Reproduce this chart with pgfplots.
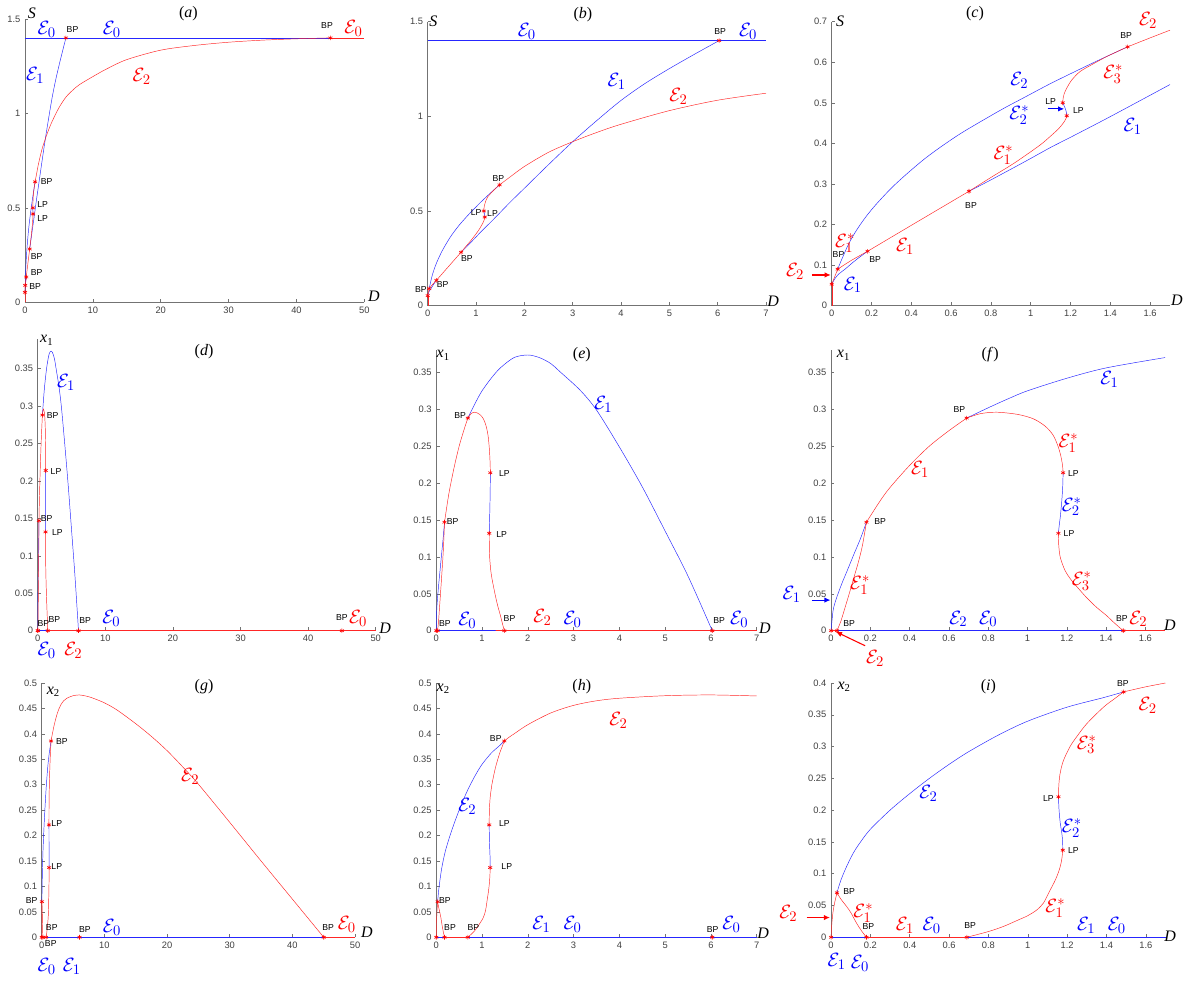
\documentclass[border=0pt]{standalone}
\usepackage{fontspec}
\setmainfont{Liberation Serif}
\setsansfont{Liberation Sans}
\usepackage{pgfplots}
\pgfplotsset{compat=1.18}
\usepackage{pgfplotstable}
\usetikzlibrary{arrows.meta}

\definecolor{cr}{rgb}{1,0,0}
\definecolor{cb}{rgb}{0,0,1}
\definecolor{axgray}{gray}{0.45}

\tikzset{
  bp/.style={font=\sffamily\fontsize{6.5}{6.5}\selectfont, inner sep=0pt, text=black},
  el/.style={font=\fontsize{15}{15}\selectfont, inner sep=0pt},
  ttl/.style={font=\fontsize{12}{12}\selectfont, inner sep=0pt},
  axl/.style={font=\fontsize{12}{12}\selectfont\itshape, inner sep=0pt},
}

\pgfplotsset{
  panel/.style={
    scale only axis, anchor=south west,
    axis x line*=bottom, axis y line*=left,
    axis line style={axgray, line width=0.5pt, -},
    tick style={axgray, line width=0.4pt},
    tick align=inside, major tick length=2.5pt,
    xmin=0, ymin=0, clip=false,
    scaled ticks=false,
    ticklabel style={font=\sffamily\fontsize{7}{8}\selectfont, text=black!75},
    /pgf/number format/assume math mode=true,
    yticklabel style={/pgf/number format/fixed, /pgf/number format/precision=2},
    xticklabel style={/pgf/number format/fixed, /pgf/number format/precision=2},
  },
  bl/.style={cb!85, line width=0.35pt, smooth, no markers},
  rd/.style={cr!85, line width=0.35pt, smooth, no markers},
  mk/.style={cr, only marks, mark=asterisk, mark size=1.7pt, mark options={line width=0.45pt}},
}

% ---------- S against D ----------
\pgfplotstableread{
D V
0 1.4
1.7 1.4
7 1.4
45 1.4
}\SEzB
\pgfplotstableread{
D V
45 1.4
50 1.4
}\SEzR
\pgfplotstableread{
D V
0 0
0 0.053
}\SEzV
\pgfplotstableread{
D V
0 0.053
0.012 0.068
0.03 0.09
}\SEtwoA
\pgfplotstableread{
D V
0.03 0.09
0.045 0.108
0.06 0.125
0.08 0.147
0.1 0.166
0.13 0.19
0.17 0.218
0.22 0.248
0.3 0.29
0.38 0.326
0.467 0.362
0.55 0.392
0.65 0.425
0.767 0.459
0.867 0.487
0.967 0.513
1.09 0.545
1.214 0.575
1.35 0.607
1.487 0.638
}\SEtwoB
\pgfplotstableread{
D V
1.487 0.638
1.6 0.66
1.7 0.679
2 0.735
2.5 0.81
3 0.866
3.5 0.915
4 0.958
5 1.03
6 1.085
7 1.122
8 1.152
10 1.195
12 1.235
15 1.285
20 1.335
25 1.36
30 1.377
35 1.388
40 1.395
45 1.4
}\SEtwoC
\pgfplotstableread{
D V
0 0.053
0.015 0.066
0.035 0.078
0.067 0.09
0.1 0.104
0.133 0.117
0.18 0.134
}\SEoneA
\pgfplotstableread{
D V
0.18 0.134
0.4 0.198
0.69 0.282
}\SEoneR
\pgfplotstableread{
D V
0.69 0.282
0.8 0.31
0.967 0.354
1.1 0.39
1.2 0.415
1.4 0.466
1.7 0.545
2 0.62
2.5 0.745
3 0.866
3.5 0.978
4 1.084
4.5 1.174
5 1.252
5.5 1.325
6.03 1.4
}\SEoneB
\pgfplotstableread{
D V
0.03 0.09
0.1 0.112
0.18 0.134
}\SElow
\pgfplotstableread{
D V
0.69 0.282
0.8 0.316
0.9 0.346
0.967 0.368
1.05 0.397
1.1 0.418
1.14 0.436
1.165 0.451
1.176 0.46
1.181 0.468
}\SEsOne
\pgfplotstableread{
D V
1.181 0.468
1.179 0.477
1.172 0.488
1.161 0.5
}\SEsTwo
\pgfplotstableread{
D V
1.161 0.5
1.163 0.512
1.168 0.522
1.181 0.536
1.206 0.556
1.248 0.577
1.307 0.594
1.382 0.614
1.487 0.638
}\SEsThree
\pgfplotstableread{
D V
0 0.053
0.03 0.09
0.18 0.134
0.69 0.282
1.181 0.468
1.161 0.5
1.487 0.638
6.03 1.4
45 1.4
}\Smk

% ---------- x1 against D ----------
\pgfplotstableread{
D V
0 0
1.7 0
7 0
50 0
}\XaAxB
\pgfplotstableread{
D V
0 0
0.03 0
}\XaAxRa
\pgfplotstableread{
D V
1.487 0
1.7 0
7 0
50 0
}\XaAxRb
\pgfplotstableread{
D V
0 0
0.004 0.012
0.012 0.03
0.03 0.046
0.055 0.064
0.08 0.08
0.12 0.106
0.15 0.125
0.18 0.147
}\XaOneA
\pgfplotstableread{
D V
0.18 0.147
0.25 0.176
0.3 0.194
0.4 0.224
0.5 0.25
0.6 0.271
0.69 0.288
}\XaOneR
\pgfplotstableread{
D V
0.69 0.288
0.8 0.302
0.9 0.314
1.0 0.325
1.2 0.342
1.4 0.356
1.7 0.37
2 0.3735
2.25 0.37
2.5 0.362
2.7 0.351
3.14 0.326
3.5 0.299
4 0.249
4.5 0.195
5 0.135
5.5 0.074
6.03 0
}\XaOneB
\pgfplotstableread{
D V
0.03 0
0.05 0.013
0.065 0.026
0.09 0.048
0.115 0.071
0.14 0.094
0.16 0.116
0.18 0.147
}\XaLow
\pgfplotstableread{
D V
0.69 0.288
0.76 0.294
0.843 0.296
0.95 0.293
1.03 0.287
1.09 0.277
1.13 0.265
1.155 0.25
1.17 0.236
1.178 0.224
1.181 0.214
}\XaSOne
\pgfplotstableread{
D V
1.181 0.214
1.179 0.195
1.174 0.175
1.167 0.155
1.161 0.142
1.157 0.132
}\XaSTwo
\pgfplotstableread{
D V
1.157 0.132
1.159 0.115
1.167 0.099
1.19 0.082
1.216 0.071
1.25 0.06
1.3 0.045
1.35 0.032
1.4 0.021
1.44 0.011
1.487 0
}\XaSThree
\pgfplotstableread{
D V
0 0
0.03 0
0.18 0.147
0.69 0.288
1.181 0.214
1.157 0.132
1.487 0
6.03 0
45 0
}\Xamk

% ---------- x2 against D ----------
\pgfplotstableread{
D V
0 0
1.7 0
7 0
50 0
}\XbAxB
\pgfplotstableread{
D V
0.18 0
0.69 0
}\XbAxRa
\pgfplotstableread{
D V
45 0
50 0
}\XbAxRb
\pgfplotstableread{
D V
0 0
0.004 0.022
0.01 0.04
0.018 0.054
0.03 0.07
}\XbTwoA
\pgfplotstableread{
D V
0.03 0.07
0.05 0.09
0.08 0.112
0.114 0.133
0.15 0.15
0.2 0.17
0.3 0.2
0.4 0.226
0.5 0.25
0.6 0.272
0.7 0.292
0.85 0.318
1.0 0.34
1.2 0.362
1.385 0.377
1.487 0.386
}\XbTwoB
\pgfplotstableread{
D V
1.487 0.386
1.6 0.394
1.7 0.4
2 0.418
2.5 0.441
3 0.456
3.5 0.465
4 0.47
5 0.475
6 0.4765
7 0.4745
8 0.471
10 0.461
12 0.447
15 0.42
17.5 0.395
20 0.367
22.5 0.335
25 0.301
30 0.226
35 0.15
40 0.075
45 0
}\XbTwoC
\pgfplotstableread{
D V
0.03 0.07
0.05 0.06
0.08 0.048
0.1 0.039
0.13 0.022
0.155 0.01
0.18 0
}\XbLow
\pgfplotstableread{
D V
0.69 0
0.8 0.009
0.876 0.017
0.95 0.027
1.0 0.034
1.046 0.043
1.08 0.054
1.11 0.072
1.14 0.09
1.16 0.106
1.172 0.121
1.178 0.137
}\XbSOne
\pgfplotstableread{
D V
1.178 0.137
1.177 0.152
1.172 0.166
1.165 0.18
1.159 0.2
1.156 0.221
}\XbSTwo
\pgfplotstableread{
D V
1.156 0.221
1.158 0.24
1.164 0.257
1.18 0.277
1.215 0.3
1.25 0.316
1.3 0.336
1.385 0.362
1.44 0.375
1.487 0.386
}\XbSThree
\pgfplotstableread{
D V
0 0
0.03 0.07
0.18 0
0.69 0
1.178 0.137
1.156 0.221
1.487 0.386
6.03 0
45 0
}\Xbmk

\newcommand{\Splots}{%
  \addplot[bl] table {\SEzB};
  \addplot[bl] table {\SEoneA};
  \addplot[bl] table {\SEoneB};
  \addplot[bl] table {\SEtwoB};
  \addplot[bl] table {\SEsTwo};
  \addplot[rd] table {\SEzR};
  \addplot[rd] table {\SEzV};
  \addplot[rd] table {\SEtwoA};
  \addplot[rd] table {\SEtwoC};
  \addplot[rd] table {\SEoneR};
  \addplot[rd] table {\SElow};
  \addplot[rd] table {\SEsOne};
  \addplot[rd] table {\SEsThree};
  \addplot[mk] table {\Smk};
}
\newcommand{\XaPlots}{%
  \addplot[bl] table {\XaAxB};
  \addplot[bl] table {\XaOneA};
  \addplot[bl] table {\XaOneB};
  \addplot[bl] table {\XaSTwo};
  \addplot[rd] table {\XaAxRa};
  \addplot[rd] table {\XaAxRb};
  \addplot[rd] table {\XaOneR};
  \addplot[rd] table {\XaLow};
  \addplot[rd] table {\XaSOne};
  \addplot[rd] table {\XaSThree};
  \addplot[mk] table {\Xamk};
}
\newcommand{\XbPlots}{%
  \addplot[bl] table {\XbAxB};
  \addplot[bl] table {\XbTwoB};
  \addplot[bl] table {\XbSTwo};
  \addplot[rd] table {\XbAxRa};
  \addplot[rd] table {\XbAxRb};
  \addplot[rd] table {\XbTwoA};
  \addplot[rd] table {\XbTwoC};
  \addplot[rd] table {\XbLow};
  \addplot[rd] table {\XbSOne};
  \addplot[rd] table {\XbSThree};
  \addplot[mk] table {\Xbmk};
}
\newcommand{\Eb}[3]{\node[el,text=cb] at (axis cs:#1,#2) {$\mathcal{E}#3$};}
\newcommand{\Er}[3]{\node[el,text=cr] at (axis cs:#1,#2) {$\mathcal{E}#3$};}
\newcommand{\Lb}[3]{\node[bp] at (axis cs:#1,#2) {#3};}

\begin{document}
\begin{tikzpicture}
\useasboundingbox (0,0) rectangle (894.75pt,735.75pt);

% ===== (a) =====
\begin{axis}[panel, at={(18.75pt,509pt)}, width=254.5pt, height=212.5pt,
  xmax=50, ymax=1.5, xtick={0,10,20,30,40,50}, ytick={0,0.5,1,1.5},
  restrict x to domain=-0.001:50]
\Splots
\node[ttl] at (axis cs:24.07,1.53) {(\textit{a})};
\node[axl] at (axis cs:1.0,1.53) {S};
\node[axl] at (axis cs:51.4,0.03) {D};
\Eb{3.2}{1.445}{_0} \Lb{7.0}{1.445}{BP} \Eb{12.8}{1.445}{_0}
\Lb{44.5}{1.468}{BP} \Er{48.4}{1.45}{_0}
\Eb{1.5}{1.2}{_1} \Er{17.2}{1.195}{_2}
\Lb{3.2}{0.64}{BP} \Lb{2.6}{0.52}{LP} \Lb{2.6}{0.445}{LP}
\Lb{1.7}{0.242}{BP} \Lb{1.7}{0.157}{BP} \Lb{1.5}{0.086}{BP}
\end{axis}

% ===== (b) =====
\begin{axis}[panel, at={(320.8pt,506.5pt)}, width=253.7pt, height=213pt,
  xmax=7, ymax=1.5, xtick={0,1,2,3,4,5,6,7}, ytick={0,0.5,1,1.5},
  restrict x to domain=-0.001:7]
\Splots
\node[ttl] at (axis cs:3.21,1.536) {(\textit{b})};
\node[axl] at (axis cs:0.116,1.5) {S};
\node[axl] at (axis cs:7.15,0.021) {D};
\Eb{2.05}{1.447}{_0} \Lb{6.05}{1.447}{BP} \Eb{6.63}{1.447}{_0}
\Eb{3.91}{1.183}{_1} \Er{5.19}{1.104}{_2}
\Lb{1.46}{0.673}{BP} \Lb{1.0}{0.493}{LP} \Lb{1.34}{0.488}{LP}
\Lb{0.81}{0.25}{BP} \Lb{0.31}{0.11}{BP} \Lb{-0.14}{0.086}{BP}
\end{axis}

% ===== (c) =====
\begin{axis}[panel, at={(623.8pt,506.5pt)}, width=253.7pt, height=213pt,
  xmax=1.7, ymax=0.7, xtick={0,0.2,0.4,0.6,0.8,1,1.2,1.4,1.6},
  ytick={0,0.1,0.2,0.3,0.4,0.5,0.6,0.7},
  restrict x to domain=-0.001:1.7]
\Splots
\node[ttl] at (axis cs:0.72,0.719) {(\textit{c})};
\node[axl] at (axis cs:0.042,0.7) {S};
\node[axl] at (axis cs:1.735,0.014) {D};
\Er{1.59}{0.703}{_2} \Lb{1.48}{0.665}{BP} \Er{1.415}{0.571}{_3^*}
\Eb{0.943}{0.556}{_2} \Lb{1.10}{0.503}{LP} \Lb{1.24}{0.48}{LP}
\draw[cb, line width=0.8pt, -{Latex[length=4.5pt,width=4pt]}] (axis cs:1.085,0.485) -- (axis cs:1.168,0.485);
\Eb{0.943}{0.47}{_2^*} \Eb{1.513}{0.441}{_1}
\Er{0.863}{0.371}{_1^*} \Lb{0.70}{0.246}{BP}
\Er{0.067}{0.154}{_1^*} \Lb{0.034}{0.125}{BP}
\Er{0.369}{0.145}{_1} \Lb{0.218}{0.113}{BP}
\Er{-0.184}{0.084}{_2}
\draw[cr, line width=0.8pt, -{Latex[length=4.5pt,width=4pt]}] (axis cs:-0.1,0.0756) -- (axis cs:-0.005,0.0756);
\Eb{0.106}{0.051}{_1}
\end{axis}

% ===== (d) =====
\begin{axis}[panel, at={(28.3pt,262.7pt)}, width=253.5pt, height=219pt,
  xmax=50, ymax=0.39, xtick={0,10,20,30,40,50},
  ytick={0,0.05,0.1,0.15,0.2,0.25,0.3,0.35},
  restrict x to domain=-0.001:50]
\XaPlots
\node[ttl] at (axis cs:24.6,0.3727) {(\textit{d})};
\node[axl] at (axis cs:1.33,0.388) {x\textsubscript{\upshape 1}};
\node[axl] at (axis cs:51.4,0.003) {D};
\Eb{4.2}{0.332}{_1}
\Lb{2.2}{0.287}{BP} \Lb{2.7}{0.212}{LP} \Lb{1.33}{0.15}{BP} \Lb{2.9}{0.131}{LP}
\Lb{0.84}{0.0098}{BP} \Lb{2.47}{0.0156}{BP} \Lb{7.0}{0.013}{BP}
\Eb{10.9}{0.0165}{_0} \Lb{45.0}{0.018}{BP} \Er{47.4}{0.0165}{_0}
\Eb{1.33}{-0.0258}{_0} \Er{5.27}{-0.0258}{_2}
\end{axis}

% ===== (e) =====
\begin{axis}[panel, at={(327.2pt,262.7pt)}, width=240.3pt, height=210.4pt,
  xmax=7, ymax=0.38, xtick={0,1,2,3,4,5,6,7},
  ytick={0,0.05,0.1,0.15,0.2,0.25,0.3,0.35},
  restrict x to domain=-0.001:7]
\XaPlots
\node[ttl] at (axis cs:3.18,0.374) {(\textit{e})};
\node[axl] at (axis cs:0.153,0.373) {x\textsubscript{\upshape 1}};
\node[axl] at (axis cs:7.18,0.003) {D};
\Eb{3.65}{0.306}{_1}
\Lb{0.52}{0.291}{BP} \Lb{1.49}{0.213}{LP} \Lb{0.36}{0.148}{BP} \Lb{1.43}{0.13}{LP}
\Lb{0.19}{0.01}{BP} \Eb{0.68}{0.0145}{_0}
\Lb{1.6}{0.016}{BP} \Er{2.32}{0.0176}{_2} \Eb{2.98}{0.0158}{_0}
\Lb{6.18}{0.0145}{BP} \Eb{6.62}{0.0158}{_0}
\end{axis}

% ===== (f) =====
\begin{axis}[panel, at={(623.3pt,262.7pt)}, width=250.5pt, height=210.4pt,
  xmax=1.7, ymax=0.38, xtick={0,0.2,0.4,0.6,0.8,1,1.2,1.4,1.6},
  ytick={0,0.05,0.1,0.15,0.2,0.25,0.3,0.35},
  restrict x to domain=-0.001:1.7]
\XaPlots
\node[ttl] at (axis cs:0.81,0.374) {(\textit{f})};
\node[axl] at (axis cs:0.063,0.373) {x\textsubscript{\upshape 1}};
\node[axl] at (axis cs:1.725,0.008) {D};
\Eb{1.417}{0.34}{_1} \Lb{0.653}{0.3}{BP}
\Er{1.208}{0.254}{_1^*} \Er{0.453}{0.218}{_1} \Lb{1.233}{0.213}{LP}
\Eb{1.225}{0.168}{_2^*} \Lb{0.25}{0.148}{BP} \Lb{1.211}{0.132}{LP}
\Er{1.276}{0.067}{_3^*} \Er{0.148}{0.062}{_1^*}
\Eb{-0.2}{0.049}{_1}
\draw[cb, line width=0.8pt, -{Latex[length=4.5pt,width=4pt]}] (axis cs:-0.098,0.0415) -- (axis cs:-0.003,0.0415);
\Lb{0.092}{0.01}{BP} \Eb{0.648}{0.016}{_2} \Eb{0.8}{0.016}{_0}
\Lb{1.48}{0.016}{BP} \Er{1.564}{0.016}{_2}
\Er{0.224}{-0.0375}{_2}
\draw[cr, line width=0.8pt, -{Latex[length=4.5pt,width=4pt]}] (axis cs:0.173,-0.0203) -- (axis cs:0.025,-0.0015);
\end{axis}

% ===== (g) =====
\begin{axis}[panel, at={(31.3pt,32.8pt)}, width=235pt, height=190.7pt,
  xmax=50, ymax=0.5, xtick={0,10,20,30,40,50},
  ytick={0,0.05,0.1,0.15,0.2,0.25,0.3,0.35,0.4,0.45,0.5},
  restrict x to domain=-0.001:50]
\XbPlots
\node[ttl] at (axis cs:25.9,0.493) {(\textit{g})};
\node[axl] at (axis cs:1.85,0.483) {x\textsubscript{\upshape 2}};
\node[axl] at (axis cs:51.9,0.009) {D};
\Er{23.7}{0.316}{_2}
\Lb{3.2}{0.385}{BP} \Lb{2.4}{0.223}{LP} \Lb{2.4}{0.14}{LP} \Lb{-1.6}{0.073}{BP}
\Lb{1.6}{0.02}{BP} \Lb{6.9}{0.016}{BP} \Eb{11.2}{0.02}{_0}
\Lb{1.44}{-0.013}{BP}
\Lb{45.7}{0.02}{BP} \Er{48.7}{0.026}{_0}
\Eb{0.8}{-0.058}{_0} \Eb{4.8}{-0.058}{_1}
\end{axis}

% ===== (h) =====
\begin{axis}[panel, at={(327.2pt,32.8pt)}, width=240.3pt, height=190.7pt,
  xmax=7, ymax=0.5, xtick={0,1,2,3,4,5,6,7},
  ytick={0,0.05,0.1,0.15,0.2,0.25,0.3,0.35,0.4,0.45,0.5},
  restrict x to domain=-0.001:7]
\XbPlots
\node[ttl] at (axis cs:3.18,0.493) {(\textit{h})};
\node[axl] at (axis cs:0.153,0.489) {x\textsubscript{\upshape 2}};
\node[axl] at (axis cs:7.14,0.008) {D};
\Er{3.98}{0.427}{_2} \Lb{1.3}{0.391}{BP} \Eb{0.68}{0.257}{_2}
\Lb{1.49}{0.223}{LP} \Lb{1.54}{0.14}{LP} \Lb{0.19}{0.072}{BP}
\Lb{0.3}{0.02}{BP} \Lb{0.81}{0.02}{BP}
\Eb{2.3}{0.026}{_1} \Eb{2.98}{0.026}{_0}
\Lb{6.04}{0.016}{BP} \Eb{6.45}{0.026}{_0}
\end{axis}

% ===== (i) =====
\begin{axis}[panel, at={(623.3pt,32.8pt)}, width=250.8pt, height=190.7pt,
  xmax=1.7, ymax=0.4, xtick={0,0.2,0.4,0.6,0.8,1,1.2,1.4,1.6},
  ytick={0,0.05,0.1,0.15,0.2,0.25,0.3,0.35,0.4},
  restrict x to domain=-0.001:1.7]
\XbPlots
\node[ttl] at (axis cs:0.8,0.395) {(\textit{i})};
\node[axl] at (axis cs:0.066,0.394) {x\textsubscript{\upshape 2}};
\node[axl] at (axis cs:1.724,0.002) {D};
\Lb{1.483}{0.3995}{BP} \Er{1.61}{0.365}{_2} \Er{1.3}{0.303}{_3^*}
\Eb{0.495}{0.226}{_2} \Lb{1.105}{0.219}{LP} \Eb{1.224}{0.172}{_2^*}
\Lb{1.232}{0.137}{LP} \Lb{0.092}{0.072}{BP}
\Er{1.14}{0.046}{_1^*}
\Er{-0.217}{0.038}{_2}
\draw[cr, line width=0.8pt, -{Latex[length=4.5pt,width=4pt]}] (axis cs:-0.124,0.031) -- (axis cs:-0.006,0.031);
\Er{0.164}{0.038}{_1^*}
\Lb{0.19}{0.017}{BP} \Er{0.376}{0.019}{_1} \Eb{0.512}{0.019}{_0}
\Lb{0.707}{0.018}{BP}
\Eb{1.297}{0.018}{_1} \Eb{1.453}{0.019}{_0}
\Eb{0.029}{-0.038}{_1} \Eb{0.147}{-0.041}{_0}
\end{axis}
\end{tikzpicture}
\end{document}
